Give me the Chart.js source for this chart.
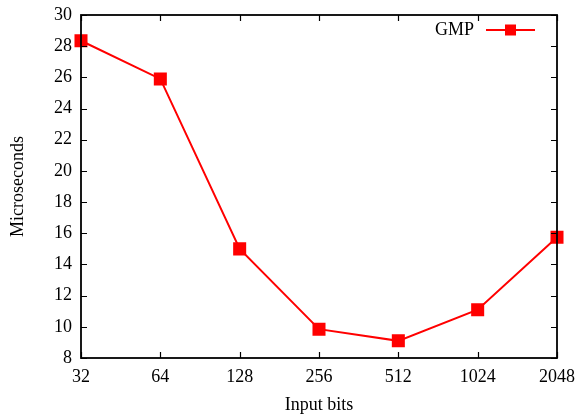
<!DOCTYPE html>
<html>
<head>
<meta charset="utf-8">
<script src="https://cdn.jsdelivr.net/npm/chart.js@4"></script>
<style>
  html, body { margin: 0; padding: 0; background: #fff; }
  #wrap { width: 581px; height: 414px; }
</style>
</head>
<body>
<div id="wrap"><canvas id="chart" width="581" height="414"></canvas></div>
<script>
const inputBits = ['32', '64', '128', '256', '512', '1024', '2048'];
const gmpMicros = [28.35, 25.9, 15.0, 9.85, 9.1, 11.1, 15.75];
const yMin = 8, yMax = 30, yStep = 2;

const FONT = 'Liberation Serif, Times New Roman, serif';
const FSIZE = 18;

// inward ticks on all four sides plus box border, gnuplot style
const frame = {
    id: 'frame',
    afterDatasetsDraw(chart) {
        const { ctx, chartArea: a, scales } = chart;
        ctx.save();
        ctx.strokeStyle = '#000';
        ctx.lineWidth = 1.2;
        ctx.beginPath();
        scales.y.ticks.forEach((t, i) => {
            const y = Math.round(scales.y.getPixelForTick(i)) + 0.5;
            ctx.moveTo(a.left, y); ctx.lineTo(a.left + 6, y);
            ctx.moveTo(a.right, y); ctx.lineTo(a.right - 6, y);
        });
        scales.x.ticks.forEach((t, i) => {
            const x = Math.round(scales.x.getPixelForTick(i)) + 0.5;
            ctx.moveTo(x, a.bottom); ctx.lineTo(x, a.bottom - 6);
            ctx.moveTo(x, a.top); ctx.lineTo(x, a.top + 6);
        });
        ctx.stroke();
        ctx.lineWidth = 1.8;
        ctx.strokeRect(a.left, a.top, a.right - a.left, a.bottom - a.top);

        // legend: text then line sample with marker
        const ly = a.top + 15;
        const lx = a.right - 22;
        ctx.font = FSIZE + 'px ' + FONT;
        ctx.fillStyle = '#000';
        ctx.textAlign = 'right';
        ctx.textBaseline = 'middle';
        ctx.fillText('GMP', lx - 61, ly);
        ctx.strokeStyle = '#ff0000';
        ctx.lineWidth = 2;
        ctx.beginPath();
        ctx.moveTo(lx - 49, ly); ctx.lineTo(lx, ly);
        ctx.stroke();
        ctx.fillStyle = '#ff0000';
        ctx.fillRect(lx - 30, ly - 5.5, 11, 11);
        ctx.restore();
    }
};

new Chart(document.getElementById('chart'), {
    type: 'line',
    data: {
        labels: inputBits,
        datasets: [{
            label: 'GMP',
            data: gmpMicros,
            borderColor: '#ff0000',
            backgroundColor: '#ff0000',
            borderWidth: 2,
            pointStyle: 'rect',
            pointRadius: 7.8,
            pointHoverRadius: 7.8,
            tension: 0
        }]
    },
    options: {
        responsive: false,
        animation: false,
        layout: { padding: { top: 15, right: 24, left: 0, bottom: 0 } },
        plugins: { legend: { display: false }, tooltip: { enabled: false } },
        scales: {
            x: {
                type: 'category',
                offset: false,
                grid: { display: false, drawTicks: false },
                border: { display: false },
                ticks: { color: '#000', font: { family: FONT, size: FSIZE }, padding: 8, maxRotation: 0, autoSkip: false },
                title: { display: true, text: 'Input bits', color: '#000', font: { family: FONT, size: FSIZE, lineHeight: 1 }, padding: { top: 0, bottom: 0 } },
                afterFit(scale) {
                    scale.height = 56;
                    scale.paddingLeft = 0;
                    scale.paddingRight = 0;
                }
            },
            y: {
                min: yMin, max: yMax,
                grid: { display: false, drawTicks: false },
                border: { display: false },
                ticks: { stepSize: yStep, color: '#000', font: { family: FONT, size: FSIZE }, padding: 9 },
                title: { display: true, text: 'Microseconds', color: '#000', font: { family: FONT, size: FSIZE }, padding: { top: 7, bottom: 0 } },
                afterFit(scale) {
                    scale.width = 81;
                    scale.paddingTop = 0;
                    scale.paddingBottom = 0;
                }
            }
        }
    },
    plugins: [frame]
});
</script>
</body>
</html>
